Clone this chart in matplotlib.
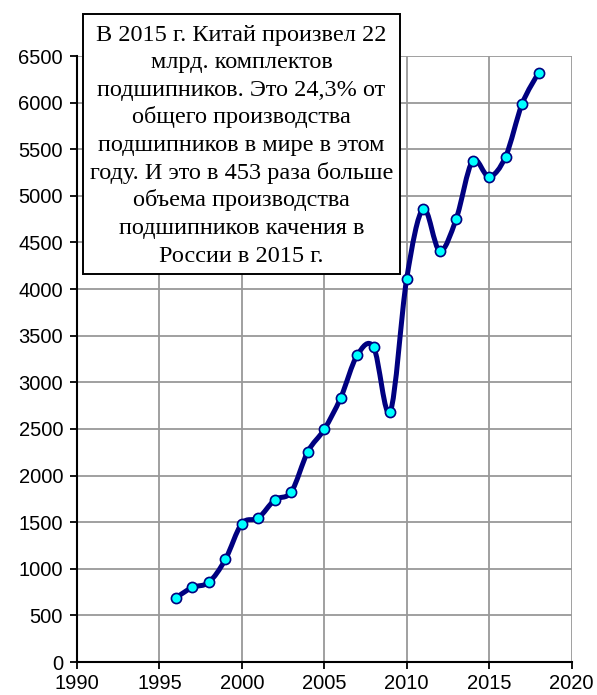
import numpy as np
import matplotlib
matplotlib.use("Agg")
import matplotlib.pyplot as plt
from matplotlib.path import Path
from matplotlib.patches import PathPatch, Rectangle

years = [1996, 1997, 1998, 1999, 2000, 2001, 2002, 2003, 2004, 2005, 2006, 2007,
         2008, 2009, 2010, 2011, 2012, 2013, 2014, 2015, 2016, 2017, 2018]
values = [690, 800, 855, 1100, 1485, 1545, 1740, 1825, 2255, 2495, 2835, 3290,
          3375, 2685, 4110, 4860, 4410, 4750, 5375, 5205, 5420, 5985, 6320]
xticks = [1990, 1995, 2000, 2005, 2010, 2015, 2020]
yticks = list(range(0, 6501, 500))
note_lines = ["В 2015 г. Китай произвел 22",
              "млрд. комплектов",
              "подшипников. Это 24,3% от",
              "общего производства",
              "подшипников в мире в этом",
              "году. И это в 453 раза больше",
              "объема производства",
              "подшипников качения в",
              "России в 2015 г."]

W, H = 597, 695
fig = plt.figure(figsize=(W / 100, H / 100), dpi=100)
ax = fig.add_axes([77 / W, 1 - 662 / H, (571.5 - 77) / W, (662 - 56) / H])

ax.set_xlim(1990, 2020)
ax.set_ylim(0, 6500)
ax.set_xticks(xticks)
ax.set_yticks(yticks)
ax.grid(True, color="#999999", linewidth=1.3)
ax.set_axisbelow(True)
for s in ["top", "right"]:
    ax.spines[s].set_visible(False)
for s in ["left", "bottom"]:
    ax.spines[s].set_color("black")
    ax.spines[s].set_linewidth(1.5)
    ax.spines[s].set_zorder(5)
ax.tick_params(direction="out", length=5, width=1.3, color="black",
               labelsize=14.5)
ax.tick_params(axis="x", pad=3.5)
ax.tick_params(axis="y", pad=5)
for lab in ax.get_xticklabels() + ax.get_yticklabels():
    lab.set_fontfamily("Liberation Sans")

# smoothed line (Catmull-Rom style Bezier like Excel smoothing)
P = np.column_stack([years, values]).astype(float)
n = len(P)
verts = [tuple(P[0])]
codes = [Path.MOVETO]
for i in range(n - 1):
    p0 = P[i - 1] if i > 0 else P[i]
    p1 = P[i]
    p2 = P[i + 1]
    p3 = P[i + 2] if i + 2 < n else P[i + 1]
    c1 = p1 + (p2 - p0) / 6.0
    c2 = p2 - (p3 - p1) / 6.0
    verts += [tuple(c1), tuple(c2), tuple(p2)]
    codes += [Path.CURVE4] * 3
ax.add_patch(PathPatch(Path(verts, codes), facecolor="none", edgecolor="#000080",
                       linewidth=3.6, capstyle="round", joinstyle="round",
                       zorder=3, clip_on=False))
ax.plot(years, values, linestyle="none", marker="o", markersize=7.3,
        markerfacecolor="#00FFFF", markeredgecolor="#000080",
        markeredgewidth=1.2, zorder=4, clip_on=False)

# annotation box
bx0, bx1, by0, by1 = 83, 400, 14, 274
fig.patches.append(Rectangle((bx0 / W, 1 - by1 / H), (bx1 - bx0) / W, (by1 - by0) / H,
                             transform=fig.transFigure, facecolor="white",
                             edgecolor="black", linewidth=1.4, zorder=10))
cx = (bx0 + bx1) / 2 / W
for i, line in enumerate(note_lines):
    yb = 40.7 + 27.6 * i
    fig.text(cx, 1 - yb / H, line, ha="center", va="baseline",
             fontsize=17.5, family="Liberation Serif", zorder=11)

fig.savefig("out.png", dpi=100)
